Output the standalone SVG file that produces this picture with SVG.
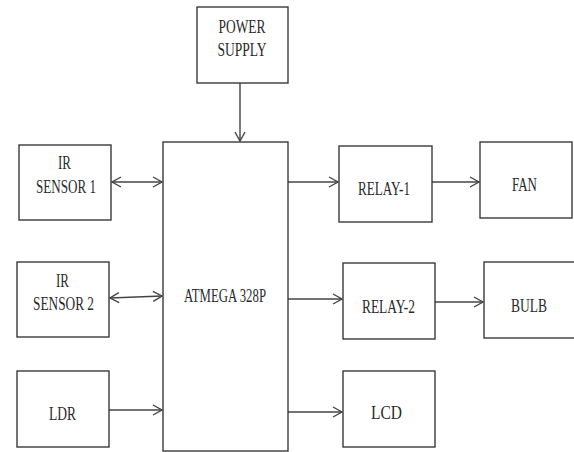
<svg xmlns="http://www.w3.org/2000/svg" width="574" height="452" viewBox="0 0 574 452">
<style>
.box{fill:#fff;stroke:#3a3a3a;stroke-width:1.4}
.lbl{font-family:"Liberation Serif","Times New Roman",serif;font-size:19px;fill:#2a2a2a;text-anchor:middle}
.con{stroke:#444;stroke-width:1.4;fill:none}
</style>
<defs>
<marker id="arr" markerUnits="userSpaceOnUse" markerWidth="14" markerHeight="14" refX="10" refY="6" orient="auto-start-reverse">
<path d="M1,1 L10,6 L1,11" fill="none" stroke="#444" stroke-width="1.4"/>
</marker>
</defs>
<rect width="574" height="452" fill="#fff"/>
<g id="connectors">
<line class="con" x1="240" y1="83" x2="240" y2="141" marker-end="url(#arr)"/>
<line class="con" x1="112" y1="182" x2="162" y2="182" marker-start="url(#arr)" marker-end="url(#arr)"/>
<line class="con" x1="110" y1="298" x2="162" y2="296" marker-start="url(#arr)" marker-end="url(#arr)"/>
<line class="con" x1="109" y1="410" x2="162" y2="410" marker-end="url(#arr)"/>
<line class="con" x1="288" y1="182" x2="338" y2="182" marker-end="url(#arr)"/>
<line class="con" x1="432" y1="182" x2="479" y2="182" marker-end="url(#arr)"/>
<line class="con" x1="288" y1="299" x2="342" y2="299" marker-end="url(#arr)"/>
<line class="con" x1="435" y1="302" x2="483" y2="302" marker-end="url(#arr)"/>
<line class="con" x1="288" y1="412" x2="342" y2="412" marker-end="url(#arr)"/>
</g>
<g id="power">
<rect class="box" x="197" y="7" width="91" height="76"/>
<text class="lbl" x="242" y="33" textLength="47" lengthAdjust="spacingAndGlyphs">POWER</text>
<text class="lbl" x="242" y="56" textLength="49" lengthAdjust="spacingAndGlyphs">SUPPLY</text>
</g>
<g id="atmega">
<rect class="box" x="163" y="142" width="125" height="309"/>
<text class="lbl" x="225" y="302" textLength="82" lengthAdjust="spacingAndGlyphs">ATMEGA 328P</text>
</g>
<g id="ir1">
<rect class="box" x="19" y="145" width="92" height="75"/>
<text class="lbl" x="64.5" y="169" textLength="13" lengthAdjust="spacingAndGlyphs">IR</text>
<text class="lbl" x="66" y="193" textLength="60" lengthAdjust="spacingAndGlyphs">SENSOR 1</text>
</g>
<g id="ir2">
<rect class="box" x="17" y="262" width="92" height="75"/>
<text class="lbl" x="62.5" y="287" textLength="13" lengthAdjust="spacingAndGlyphs">IR</text>
<text class="lbl" x="63.5" y="310" textLength="61" lengthAdjust="spacingAndGlyphs">SENSOR 2</text>
</g>
<g id="ldr">
<rect class="box" x="17" y="371" width="92" height="76"/>
<text class="lbl" x="62.5" y="420" textLength="27" lengthAdjust="spacingAndGlyphs">LDR</text>
</g>
<g id="relay1">
<rect class="box" x="339" y="146" width="93" height="76"/>
<text class="lbl" x="384" y="195" textLength="52" lengthAdjust="spacingAndGlyphs">RELAY-1</text>
</g>
<g id="fan">
<rect class="box" x="480" y="142" width="92" height="76"/>
<text class="lbl" x="524.5" y="191" textLength="25" lengthAdjust="spacingAndGlyphs">FAN</text>
</g>
<g id="relay2">
<rect class="box" x="343" y="263" width="92" height="76"/>
<text class="lbl" x="388.5" y="313" textLength="53" lengthAdjust="spacingAndGlyphs">RELAY-2</text>
</g>
<g id="bulb">
<rect class="box" x="484" y="262" width="100" height="76"/>
<text class="lbl" x="529" y="312" textLength="36" lengthAdjust="spacingAndGlyphs">BULB</text>
</g>
<g id="lcd">
<rect class="box" x="343" y="371" width="92" height="76"/>
<text class="lbl" x="386.5" y="419" textLength="31" lengthAdjust="spacingAndGlyphs">LCD</text>
</g>
</svg>
